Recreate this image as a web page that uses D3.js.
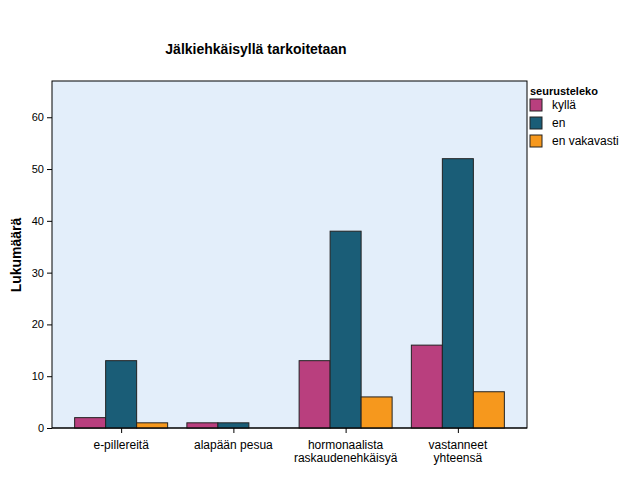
<!DOCTYPE html>
<html><head><meta charset="utf-8">
<script src="https://cdn.jsdelivr.net/npm/d3@7"></script>
<style>body{margin:0;background:#fff}text{font-family:"Liberation Sans",Arial,sans-serif}</style>
</head><body><svg id="chart" width="626" height="501"></svg>
<script>
const categories = [["e-pillereitä"], ["alapään pesua"], ["hormonaalista", "raskaudenehkäisyä"], ["vastanneet", "yhteensä"]];
const seriesNames = ["kyllä", "en", "en vakavasti"];
const kylla = [2, 1, 13, 16];
const en = [13, 1, 38, 52];
const enVakavasti = [1, 0, 6, 7];
const colors = ["#b93f7e", "#1a5d77", "#f6981d"];
const yTicks = [0, 10, 20, 30, 40, 50, 60];

(function() {
const series = [kylla, en, enVakavasti];
const svg = d3.select("#chart");
const pLeft = 52, pRight = 527, pTop = 81, pBottom = 428;

svg.append("rect").attr("x", pLeft).attr("y", pTop).attr("width", pRight - pLeft).attr("height", pBottom - pTop)
  .attr("fill", "#e3eefa").attr("stroke", "#000");

const x = d3.scalePoint().domain(d3.range(categories.length)).range([pLeft, pRight]).padding(0.616);
const y = d3.scaleLinear().domain([0, 67]).range([pBottom, pTop]);
const bw = 31;

series.forEach((vals, s) => {
  svg.selectAll(".b" + s).data(vals).join("rect")
    .attr("x", (d, i) => x(i) - 1.5 * bw + s * bw)
    .attr("y", d => y(d))
    .attr("width", bw)
    .attr("height", d => pBottom - y(d))
    .attr("fill", colors[s])
    .attr("stroke", "#222").attr("stroke-width", 1);
});

const ya = svg.append("g").attr("transform", `translate(${pLeft},0)`)
  .call(d3.axisLeft(y).tickValues(yTicks).tickSize(5).tickSizeOuter(0));
ya.select(".domain").remove();
ya.selectAll("text").style("font-size", "11px").attr("fill", "#000");

const xa = svg.append("g").attr("transform", `translate(0,${pBottom})`)
  .call(d3.axisBottom(x).tickSize(5).tickSizeOuter(0).tickFormat(""));
xa.select(".domain").remove();
categories.forEach((lines, i) => {
  lines.forEach((t, j) => {
    svg.append("text").attr("x", x(i)).attr("y", pBottom + 21 + j * 13)
      .attr("text-anchor", "middle").style("font-size", "12px").text(t);
  });
});
svg.append("line").attr("x1", pLeft).attr("x2", pRight).attr("y1", pBottom).attr("y2", pBottom).attr("stroke", "#000");

svg.append("text").attr("x", 256).attr("y", 54).attr("text-anchor", "middle")
  .style("font-size", "14px").style("font-weight", "bold").text("Jälkiehkäisyllä tarkoitetaan");
svg.append("text").attr("transform", "translate(21,255) rotate(-90)").attr("text-anchor", "middle")
  .style("font-size", "14px").style("font-weight", "bold").text("Lukumäärä");

const lg = svg.append("g").attr("transform", "translate(530,91)");
lg.append("text").attr("x", 0).attr("y", 4).style("font-size", "11px").style("font-weight", "bold").text("seurusteleko");
seriesNames.forEach((n, i) => {
  lg.append("rect").attr("x", 0).attr("y", 8 + i * 18).attr("width", 12).attr("height", 12)
    .attr("fill", colors[i]).attr("stroke", "#222");
  lg.append("text").attr("x", 22).attr("y", 18 + i * 18).style("font-size", "12px").text(n);
});
})();
</script></body></html>
